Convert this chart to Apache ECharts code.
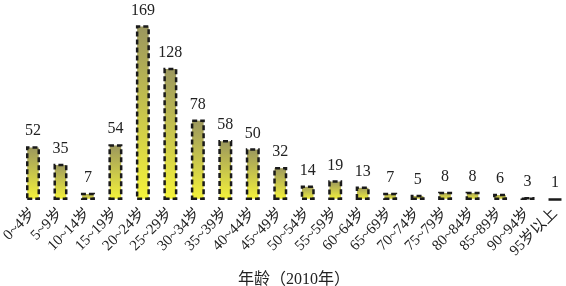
<!DOCTYPE html>
<html>
<head>
<meta charset="utf-8">
<script src="https://cdn.jsdelivr.net/npm/echarts@6/dist/echarts.min.js"></script>
<style>
  html, body { margin: 0; padding: 0; background: #fff; }
  #chart { width: 566px; height: 286px; }
</style>
</head>
<body>
<div id="chart"></div>
<script>
const ageGroups = ['0~4岁', '5~9岁', '10~14岁', '15~19岁', '20~24岁', '25~29岁', '30~34岁',
  '35~39岁', '40~44岁', '45~49岁', '50~54岁', '55~59岁', '60~64岁', '65~69岁', '70~74岁',
  '75~79岁', '80~84岁', '85~89岁', '90~94岁', '95岁以上']
const counts = [52, 35, 7, 54, 169, 128, 78, 58, 50, 32, 14, 19, 13, 7, 5, 8, 8, 6, 3, 1]

const fontFamily = '"Liberation Serif", "Noto Sans CJK SC", serif'

const chart = echarts.init(document.getElementById('chart'))

chart.setOption({
  animation: false,
  grid: {
    left: 33,
    right: 11,
    top: 14,
    bottom: 86,
    outerBoundsMode: 'none',
  },
  xAxis: {
    type: 'category',
    data: ageGroups,
    boundaryGap: false,
    name: '年龄（2010年）',
    nameLocation: 'middle',
    nameGap: 72,
    nameTextStyle: {
      color: '#222',
      fontSize: 16,
      fontFamily: fontFamily,
    },
    axisLine: { show: false },
    axisTick: { show: false },
    axisLabel: {
      rotate: 45,
      interval: 0,
      margin: 11,
      color: '#222',
      fontSize: 15,
      fontFamily: fontFamily,
    },
  },
  yAxis: {
    type: 'value',
    min: 0,
    max: 180,
    show: false,
  },
  series: [
    {
      type: 'bar',
      data: counts,
      barWidth: 14,
      itemStyle: {
        color: new echarts.graphic.LinearGradient(0, 0, 0, 1, [
          { offset: 0, color: '#9a965e' },
          { offset: 1, color: '#f6f43a' },
        ]),
        borderColor: '#1a1a1a',
        borderWidth: 2.5,
        borderType: [5, 3],
      },
      label: {
        show: true,
        position: 'top',
        distance: 7,
        color: '#222',
        fontSize: 16,
        fontFamily: fontFamily,
      },
    },
  ],
})
</script>
</body>
</html>
